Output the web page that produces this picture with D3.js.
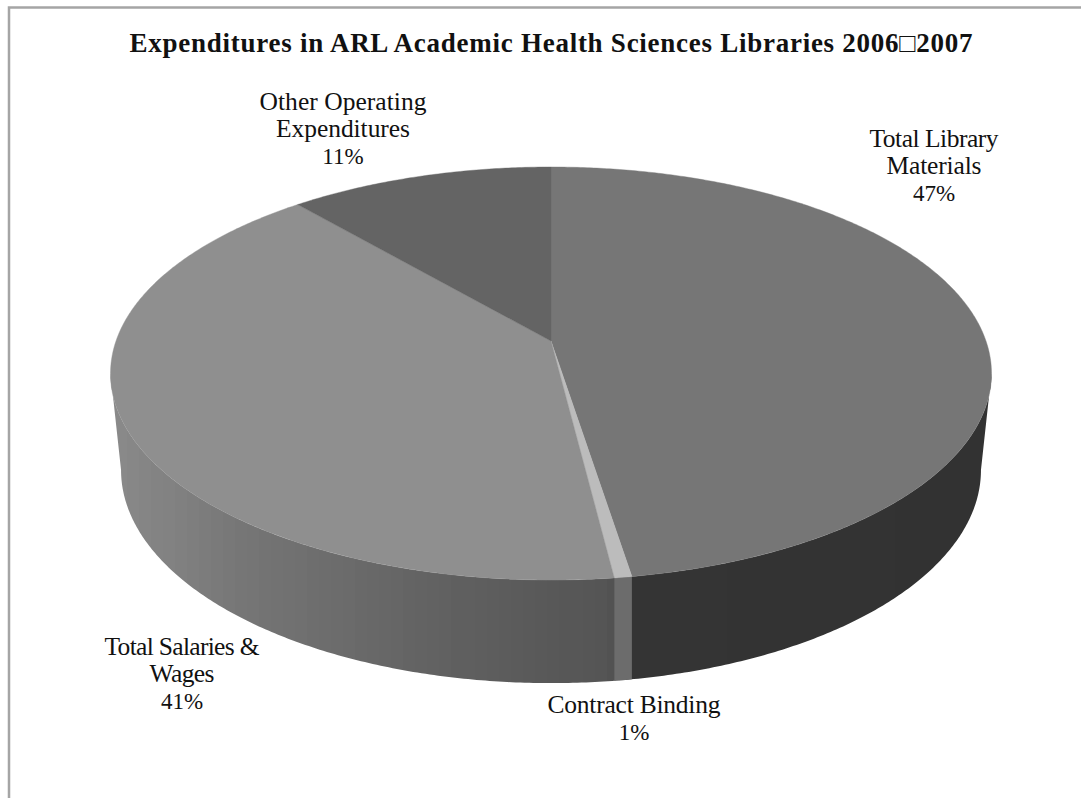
<!DOCTYPE html>
<html>
<head>
<meta charset="utf-8">
<script src="https://cdn.jsdelivr.net/npm/d3@7"></script>
<style>
  html, body { margin: 0; padding: 0; background: #fff; }
  text { font-family: "Liberation Serif", serif; fill: #111; }
</style>
</head>
<body>
<div id="chart"></div>
<script>
// values (printed labels are these, rounded)
const categories = ["Total Library Materials", "Contract Binding", "Total Salaries & Wages", "Other Operating Expenditures"];
const values = [47.49, 0.55, 40.66, 11.3];
const topColors = ["#767676", "#bcbcbc", "#8f8f8f", "#646464"];
const chartTitle = "Expenditures in ARL Academic Health Sciences Libraries 2006\u25A12007";

const width = 1081, height = 798;
const svg = d3.select("#chart").append("svg")
	.attr("width", width)
	.attr("height", height)
	.style("display", "block");

// frame, only top and left are visible
svg.append("path")
	.attr("d", `M9,${height}V7.5H${width}`)
	.attr("fill", "none")
	.attr("stroke", "#a5a5a5")
	.attr("stroke-width", 2.5);

// tilted disc: a circle under perspective, the hub sits above the ellipse middle
const persp = 0.1574;
const topFace = {cx: 551, hub: 341, a: 435, b: 201.4};
const bottomFace = {cx: 551, hub: 436.5, a: 424.6, b: 207.8};

function project(face, angle) {
	const d = 1 + persp * Math.cos(angle);
	return [face.cx + face.a * Math.sin(angle) / d, face.hub - face.b * Math.cos(angle) / d];
}

function rim(face, from, to) {
	const n = Math.max(2, Math.ceil((to - from) / (0.5 * Math.PI / 180)));
	return d3.range(n + 1).map(k => project(face, from + (to - from) * k / n));
}

const slices = d3.pie().sort(null).value(d => d)(values);

// side wall shading runs left to right across the page, in narrow bands
const wallShade = d3.scaleLinear()
	.domain([115, 250, 450, 612, 633, 990])
	.range(["#8a8a8a", "#757575", "#606060", "#545454", "#343434", "#323232"]);
const bandWidth = 12;

const defs = svg.append("defs");
const grad = defs.append("linearGradient")
	.attr("id", "wallFill")
	.attr("gradientUnits", "userSpaceOnUse")
	.attr("x1", 115).attr("x2", 990)
	.attr("y1", 0).attr("y2", 0);
const span = 990 - 115;
d3.range(115, 990, bandWidth).forEach(x => {
	const mid = x + bandWidth / 2;
	[x, x + bandWidth].forEach(edge => {
		grad.append("stop")
			.attr("offset", Math.min(1, (edge - 115) / span))
			.attr("stop-color", wallShade(mid));
	});
});

// the front of the wall, from silhouette point to silhouette point
const wallFrom = Math.acos(-persp), wallTo = 2 * Math.PI - wallFrom;
const binding = slices[1];
const wallPath = "M" + rim(topFace, wallFrom, wallTo).concat(rim(bottomFace, wallFrom, wallTo).reverse()).join("L") + "Z";
svg.append("path")
	.attr("class", "wall")
	.attr("d", wallPath)
	.attr("fill", "url(#wallFill)");

// binding wall has vertical edges under its rim, so cut it from the wall shape
const bindLeft = project(topFace, binding.endAngle)[0];
const bindRight = project(topFace, binding.startAngle)[0];
defs.append("clipPath")
	.attr("id", "bindClip")
	.append("rect")
	.attr("x", bindLeft)
	.attr("y", 0)
	.attr("width", bindRight - bindLeft)
	.attr("height", height);
svg.append("path")
	.attr("class", "wall-binding")
	.attr("d", wallPath)
	.attr("clip-path", "url(#bindClip)")
	.attr("fill", "#6c6c6c");

// top face
const hubPoint = [topFace.cx, topFace.hub];
svg.append("g").attr("class", "slices")
	.selectAll("path")
	.data(slices)
	.join("path")
	.attr("d", s => "M" + [hubPoint].concat(rim(topFace, s.startAngle, s.endAngle)).join("L") + "Z")
	.attr("fill", (s, i) => topColors[i])
	.attr("stroke", (s, i) => topColors[i])
	.attr("stroke-width", 0.4);

// title and labels
svg.append("text")
	.attr("x", 551)
	.attr("y", 52)
	.attr("text-anchor", "middle")
	.attr("font-size", 27)
	.attr("font-weight", "bold")
	.attr("textLength", 843)
	.text(chartTitle);

const labelLines = [["Total Library", "Materials"], ["Contract Binding"], ["Total Salaries &", "Wages"], ["Other Operating", "Expenditures"]];
const labelX = [934, 634, 182, 343];
const labelY = [147, 713, 655, 110];
const lineGap = 27;
const lineWidth = [[129, 95], [173], [155, 65], [167, 134]];

labelLines.forEach((lines, i) => {
	const g = svg.append("text").attr("text-anchor", "middle").attr("font-size", 25.5);
	lines.forEach((l, j) => {
		g.append("tspan")
			.attr("x", labelX[i])
			.attr("y", labelY[i] + j * lineGap)
			.attr("textLength", lineWidth[i][j])
			.text(l);
	});
	g.append("tspan")
		.attr("x", labelX[i])
		.attr("y", labelY[i] + lines.length * lineGap)
		.attr("font-size", 23)
		.text(Math.round(values[i]) + "%");
});
</script>
</body>
</html>
